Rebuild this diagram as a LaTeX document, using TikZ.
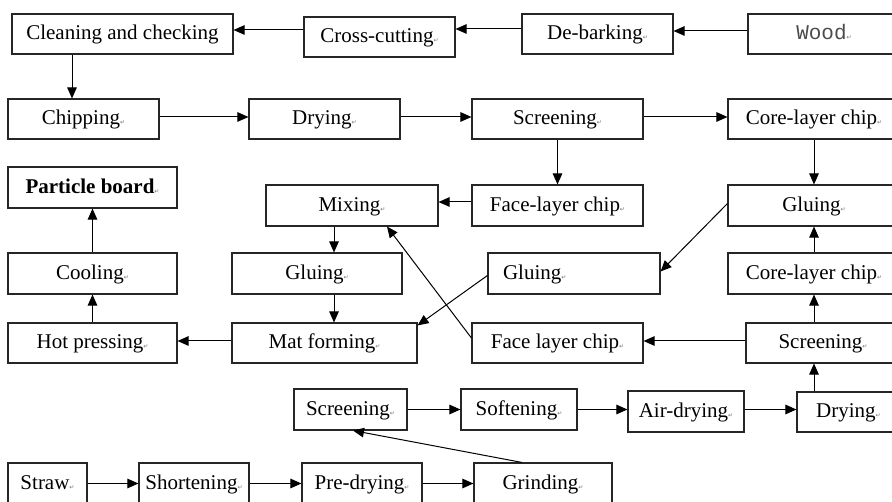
\documentclass[tikz,border=0pt]{standalone}
\usepackage{fontspec}
\setmainfont{Liberation Serif}
\newfontfamily\monof{Liberation Mono}
\newfontfamily\dejavu{DejaVu Sans}
\usetikzlibrary{arrows.meta}
\newcommand\pmark{{\fontsize{6}{6}\selectfont\dejavu\textcolor{black!55}{↵}}}
\begin{document}
\begin{tikzpicture}[x=1pt,y=-1pt,
  box/.style={draw=black!85,line width=1.1pt,inner sep=0pt,minimum height=41pt,
    text height=15pt,text depth=3pt,
    font=\fontsize{21}{24}\selectfont,anchor=center},
  arr/.style={draw=black,line width=1pt,-{Triangle[length=11pt,width=9.5pt]}}]
\useasboundingbox (0,0) rectangle (892,502);
\fill[white] (0,0) rectangle (892,502);
\clip (0,0) rectangle (892,502);
% row 1
\node[box,minimum width=221pt,minimum height=40pt] (clean) at (122.5,34) {Cleaning and checking};
\node[box,minimum width=151pt,minimum height=40pt] (cross) at (379.5,37) {Cross-cutting\pmark};
\node[box,minimum width=151pt,minimum height=40pt] (debark) at (597.5,34) {De-barking\pmark};
\node[box,minimum width=152pt,minimum height=40pt] (wood) at (824,34) {{\monof\color{black!70}Wood}\pmark};
% row 2
\node[box,minimum width=151pt,minimum height=40pt] (chip) at (83.5,119) {Chipping\pmark};
\node[box,minimum width=151pt,minimum height=40pt] (dry1) at (324.5,119) {Drying\pmark};
\node[box,minimum width=171pt,minimum height=40pt] (scr1) at (557.5,119) {Screening\pmark};
\node[box,minimum width=172pt,minimum height=40pt] (core1) at (814,119) {Core-layer chip\pmark};
% row 3
\node[box,minimum width=169pt] (pboard) at (92.5,187.5) {\textbf{Particle board}\pmark};
\node[box,minimum width=172pt] (mix) at (352,205.5) {Mixing\pmark};
\node[box,minimum width=171pt] (face1) at (557.5,205.5) {Face-layer chip\pmark};
\node[box,minimum width=172pt] (glueR) at (814,205.5) {Gluing\pmark};
% row 4
\node[box,minimum width=169pt] (cool) at (92.5,273.5) {Cooling\pmark};
\node[box,minimum width=170pt] (glueL) at (317,273.5) {Gluing\pmark};
\node[box,minimum width=172pt] (glueM) at (574,273.5) {\makebox[172pt][l]{\hspace{15pt}Gluing\pmark}};
\node[box,minimum width=172pt] (coreR) at (814,273.5) {Core-layer chip\pmark};
% row 5
\node[box,minimum width=169pt,minimum height=40pt] (hot) at (92.5,343) {Hot pressing\pmark};
\node[box,minimum width=185pt,minimum height=40pt] (mat) at (324.5,343) {Mat forming\pmark};
\node[box,minimum width=171pt,minimum height=40pt] (face2) at (557.5,343) {Face layer chip\pmark};
\node[box,minimum width=154pt,minimum height=40pt] (scrR) at (823,343) {Screening\pmark};
% row 6
\node[box,minimum width=113pt] (scr2) at (350.5,409.5) {Screening\pmark};
\node[box,minimum width=116pt] (soft) at (519,409.5) {Softening\pmark};
\node[box,minimum width=116pt] (air) at (686,411.5) {Air-drying\pmark};
\node[box,minimum width=103pt,minimum height=40pt] (dry2) at (848.5,412) {Drying\pmark};
% row 7
\node[box,minimum width=79pt] (straw) at (47.5,483.5) {Straw\pmark};
\node[box,minimum width=110pt] (short) at (194,483.5) {Shortening\pmark};
\node[box,minimum width=120pt] (pre) at (362,483.5) {Pre-drying\pmark};
\node[box,minimum width=138pt] (grind) at (543,483.5) {Grinding\pmark};
% connectors
\draw[arr] ([yshift=3pt]wood.west) -- ([yshift=3pt]debark.east);
\draw[arr] ([yshift=5pt]debark.west) -- ([yshift=8pt]cross.east);
\draw[arr] ([yshift=7pt]cross.west) -- ([yshift=4pt]clean.east);
\draw[arr] ([xshift=-50.5pt]clean.south) -- ([xshift=-11.5pt]chip.north);
\draw[arr] ([yshift=2pt]chip.east) -- ([yshift=2pt]dry1.west);
\draw[arr] ([yshift=2pt]dry1.east) -- ([yshift=2pt]scr1.west);
\draw[arr] ([yshift=2pt]scr1.east) -- ([yshift=2pt]core1.west);
\draw[arr] (scr1.south) -- (face1.north);
\draw[arr] (core1.south) -- (glueR.north);
\draw[arr] ([yshift=3.5pt]face1.west) -- ([yshift=3.5pt]mix.east);
\draw[arr] ([xshift=-18pt]mix.south) -- ([xshift=17pt]glueL.north);
\draw[arr] ([xshift=17pt]glueL.south) -- ([xshift=9.5pt]mat.north);
\draw[arr] ([yshift=2pt]mat.west) -- ([yshift=2pt]hot.east);
\draw[arr] (hot.north) -- (cool.south);
\draw[arr] (cool.north) -- (pboard.south);
\draw[arr] ([yshift=2pt]glueR.west) -- ([yshift=2pt]glueM.east);
\draw[arr] ([yshift=-2pt]glueM.west) -- ([yshift=-3pt]mat.north east);
\draw[arr] ([yshift=5pt]face2.west) -- ([xshift=35pt]mix.south);
\draw[arr] ([yshift=2pt]scrR.west) -- ([yshift=2pt]face2.east);
\draw[arr] (scrR.north -| coreR.south) -- (coreR.south);
\draw[arr] (coreR.north) -- (glueR.south);
\draw[arr] (dry2.north -| coreR.south) -- (scrR.south -| coreR.south);
\draw[arr] (scr2.east) -- (soft.west);
\draw[arr] (soft.east) -- (soft.east -| air.west);
\draw[arr] ([yshift=2pt]air.east) -- ([yshift=2pt]air.east -| dry2.west);
\draw[arr] (straw.east) -- (short.west);
\draw[arr] (short.east) -- (pre.west);
\draw[arr] (pre.east) -- (grind.west);
\draw[arr] ([xshift=-21pt]grind.north) -- ([xshift=2.5pt]scr2.south);
\end{tikzpicture}
\end{document}
